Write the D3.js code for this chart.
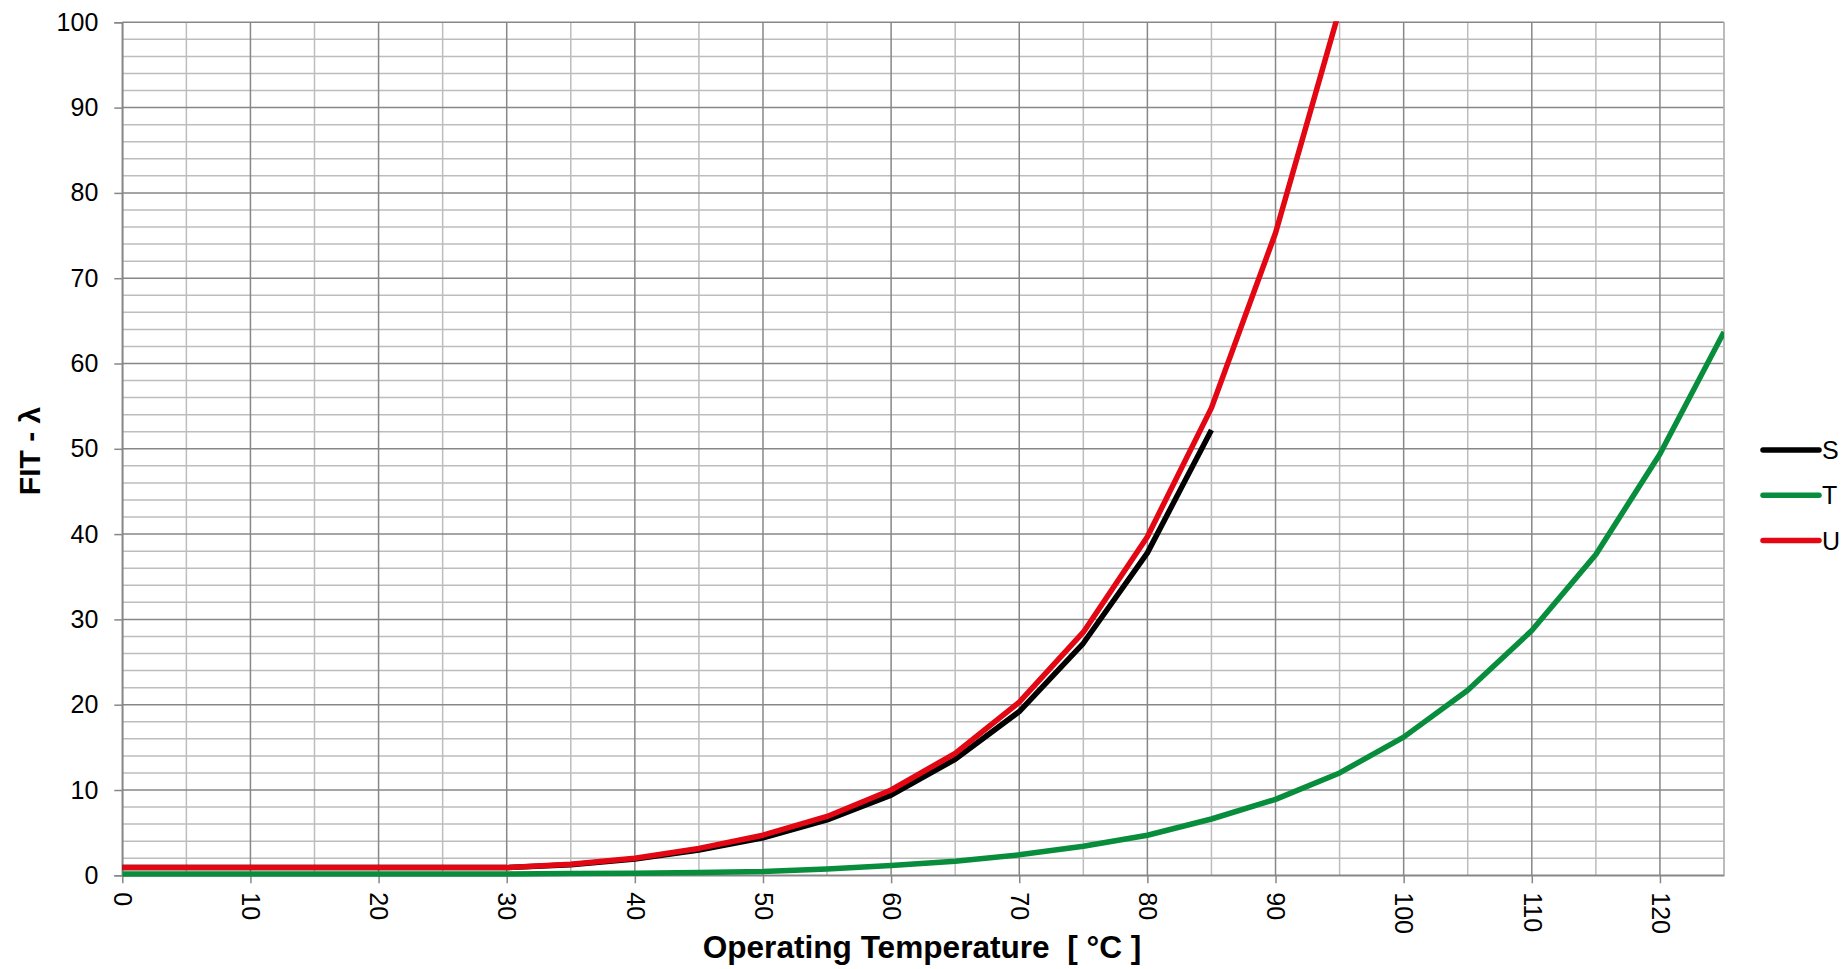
<!DOCTYPE html>
<html>
<head>
<meta charset="utf-8">
<script src="https://cdn.jsdelivr.net/npm/d3@7"></script>
<style>
  body { margin: 0; background: #fff; }
  svg { display: block; font-family: "Liberation Sans", Arial, sans-serif; }
</style>
</head>
<body>
<div id="chart"></div>
<script>
// temperatures, every 5 degrees
const temps = [0, 5, 10, 15, 20, 25, 30, 35, 40, 45, 50, 55, 60, 65, 70, 75, 80, 85, 90, 95, 100, 105, 110, 115, 120, 125];
// FIT values
const seriesS = [0.9, 0.9, 0.9, 0.9, 0.9, 0.9, 0.9, 1.25, 1.9, 2.95, 4.4, 6.5, 9.4, 13.6, 19.2, 27.2, 37.8, 52.2];
const seriesT = [0.15, 0.15, 0.15, 0.15, 0.15, 0.15, 0.15, 0.2, 0.25, 0.32, 0.45, 0.75, 1.15, 1.65, 2.4, 3.4, 4.7, 6.6, 8.9, 12.0, 16.2, 21.7, 28.7, 37.6, 49.4, 63.7];
const seriesU = [0.9, 0.9, 0.9, 0.9, 0.9, 0.9, 0.9, 1.3, 2.0, 3.15, 4.7, 6.9, 10.0, 14.3, 20.3, 28.5, 39.7, 54.8, 75.3, 101.5];
const seriesNames = ["S", "T", "U"];
const seriesColors = ["#000000", "#078d3c", "#e30613"];
const xTicks = [0, 10, 20, 30, 40, 50, 60, 70, 80, 90, 100, 110, 120];
const yTicks = [0, 10, 20, 30, 40, 50, 60, 70, 80, 90, 100];

const width = 1846, height = 969;
const margin = {top: 22.3, left: 122.3, right: 1846 - 1724, bottom: 969 - 875.3};
const innerW = width - margin.left - margin.right;
const innerH = height - margin.top - margin.bottom;

const svg = d3.select("#chart").append("svg")
    .attr("width", width)
    .attr("height", height);

const g = svg.append("g").attr("transform", `translate(${margin.left},${margin.top})`);

const x = d3.scaleLinear().domain([0, 125]).range([0, innerW]);
const y = d3.scaleLinear().domain([0, 100]).range([innerH, 0]);

// minor grid
g.append("g").selectAll("line")
    .data(d3.range(0, 101, 2).filter(v => v % 10 !== 0))
    .join("line")
    .attr("x1", 0).attr("x2", innerW)
    .attr("y1", d => y(d)).attr("y2", d => y(d))
    .attr("stroke", "#bdbdbd").attr("stroke-width", 1.5);
g.append("g").selectAll("line")
    .data(d3.range(5, 126, 10))
    .join("line")
    .attr("y1", 0).attr("y2", innerH)
    .attr("x1", d => x(d)).attr("x2", d => x(d))
    .attr("stroke", "#bdbdbd").attr("stroke-width", 1.5);

// major grid
g.append("g").selectAll("line")
    .data(yTicks)
    .join("line")
    .attr("x1", 0).attr("x2", innerW)
    .attr("y1", d => y(d)).attr("y2", d => y(d))
    .attr("stroke", "#878787").attr("stroke-width", 1.5);
g.append("g").selectAll("line")
    .data(xTicks)
    .join("line")
    .attr("y1", 0).attr("y2", innerH)
    .attr("x1", d => x(d)).attr("x2", d => x(d))
    .attr("stroke", "#878787").attr("stroke-width", 1.5);

// right border
g.append("line")
    .attr("x1", innerW).attr("x2", innerW).attr("y1", 0).attr("y2", innerH)
    .attr("stroke", "#b4b4b4").attr("stroke-width", 1.5);

// axes
const yAxis = g.append("g")
    .call(d3.axisLeft(y).tickValues(yTicks).tickSize(8).tickPadding(16));
yAxis.select(".domain").attr("stroke", "#878787").attr("stroke-width", 1.5);
yAxis.selectAll(".tick line").attr("stroke", "#878787").attr("stroke-width", 1.5);
yAxis.selectAll(".tick text").attr("font-size", 25).attr("fill", "#000")
    .attr("font-family", "Liberation Sans, Arial, sans-serif");

const xAxis = g.append("g")
    .attr("transform", `translate(0,${innerH})`)
    .call(d3.axisBottom(x).tickValues(xTicks).tickSize(8).tickSizeOuter(0));
xAxis.select(".domain").attr("stroke", "#878787").attr("stroke-width", 1.5);
xAxis.selectAll(".tick line").attr("stroke", "#878787").attr("stroke-width", 1.5);
xAxis.selectAll(".tick text")
    .attr("font-size", 25).attr("fill", "#000")
    .attr("font-family", "Liberation Sans, Arial, sans-serif")
    .attr("transform", "rotate(90)")
    .attr("x", 17).attr("y", 0).attr("dy", "0.35em")
    .attr("text-anchor", "start");

// lines
const allSeries = [seriesS, seriesT, seriesU];
const line = d3.line()
    .x((d, i) => x(temps[i]))
    .y(d => y(d));

g.append("clipPath").attr("id", "clip")
    .append("rect").attr("width", innerW).attr("height", innerH + 4).attr("y", -1);

g.append("g").attr("clip-path", "url(#clip)")
    .selectAll("path")
    .data(allSeries)
    .join("path")
    .attr("d", line)
    .attr("fill", "none")
    .attr("stroke", (d, i) => seriesColors[i])
    .attr("stroke-width", 5.5)
    .attr("stroke-linejoin", "round");

// axis titles
svg.append("text")
    .attr("x", 922).attr("y", 958)
    .attr("text-anchor", "middle")
    .style("white-space", "pre")
    .attr("font-size", 31.6).attr("font-weight", "bold")
    .text("Operating Temperature  [ °C ]");

svg.append("text")
    .attr("transform", "translate(40,451) rotate(-90)")
    .attr("text-anchor", "middle")
    .attr("font-size", 30).attr("font-weight", "bold")
    .text("FIT - λ");

// legend
const legend = svg.append("g").attr("transform", "translate(1763,450)");
const items = legend.selectAll("g")
    .data(seriesNames)
    .join("g")
    .attr("transform", (d, i) => `translate(0,${i * 45.3})`);
items.append("line")
    .attr("x1", 0).attr("x2", 56).attr("y1", 0).attr("y2", 0)
    .attr("stroke", (d, i) => seriesColors[i])
    .attr("stroke-width", 5.5)
    .attr("stroke-linecap", "round");
items.append("text")
    .attr("x", 59).attr("y", 0).attr("dy", "0.36em")
    .attr("font-size", 25)
    .text(d => d);
</script>
</body>
</html>
